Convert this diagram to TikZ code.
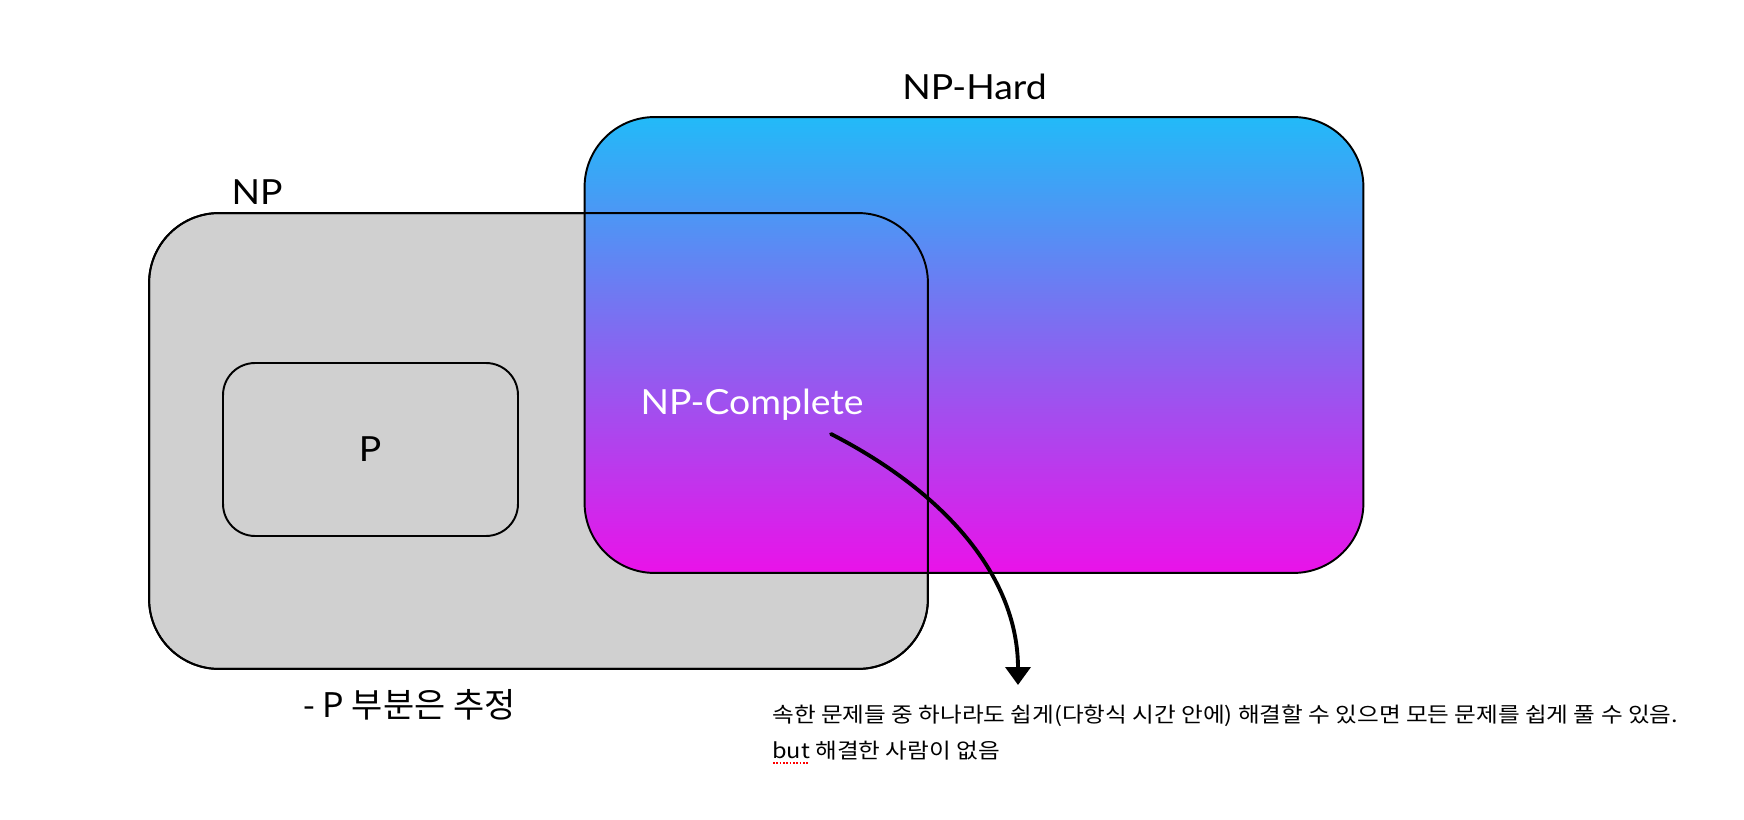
\documentclass[tikz,border=0pt]{standalone}
\usepackage{fontspec}
\setmainfont{Lato}[FakeStretch=1.08]
\newfontfamily\kofont{Noto Sans CJK KR}
\newfontfamily\notefont[FakeStretch=1.12]{Noto Sans CJK KR}
\usetikzlibrary{arrows.meta}
\definecolor{npgray}{HTML}{D0D0D0}
\definecolor{hardtop}{HTML}{22BAF8}
\definecolor{hardbot}{HTML}{EA12E9}
\tikzset{
  setbox/.style={draw=black, line width=1.1pt, rounded corners=1.4cm, minimum width=15.58cm, minimum height=9.12cm, inner sep=0pt, outer sep=0pt},
  lbl/.style={font=\fontsize{19.7}{24}\selectfont, anchor=base, inner sep=0pt},
}
\begin{document}
\begin{tikzpicture}[x=0.02cm, y=-0.02cm]
  \useasboundingbox (0,0) rectangle (1744,820);
  % sets
  \node[setbox, fill=npgray] (np) at (538.5,441) {};
  \node[setbox, top color=hardtop, bottom color=hardbot] (nphard) at (974,345) {};
  \draw[line width=1.1pt, rounded corners=1.4cm] (np.north west) rectangle (np.south east);
  \node[draw, line width=1.1pt, rounded corners=0.64cm, minimum width=5.9cm, minimum height=3.46cm, inner sep=0pt] (pbox) at (370.5,449.5) {};
  % labels
  \node[lbl] (hardlbl) at (974.5,100) {NP-Hard};
  \node[lbl] (nplbl) at (257,205) {NP};
  \node[lbl] (plbl) at (370,462) {P};
  \node[lbl, text=white] (cplbl) at (752,415) {NP-Complete};
  \node[anchor=base, inner sep=0pt, font=\kofont\fontsize{19.3}{24}\selectfont] (guess) at (409.5,717) {- P 부분은 추정};
  % note
  \node[anchor=base west, inner sep=0pt, font=\notefont\fontsize{12}{14}\selectfont] (note1) at (772,722) {속한 문제들 중 하나라도 쉽게(다항식 시간 안에) 해결할 수 있으면 모든 문제를 쉽게 풀 수 있음.};
  \node[anchor=base west, inner sep=0pt, font=\notefont\fontsize{12}{14}\selectfont] (note2) at (772,758) {but 해결한 사람이 없음};
  \draw[red, densely dotted, line width=0.9pt] (773,763) -- (809,763);
  % arrow
  \coordinate (from) at (831,434);
  \coordinate (to) at (1018,685);
  \draw[line width=2.2pt, line cap=round, -{Triangle[width=0.5cm,length=0.36cm]}] (from) .. controls (950,495) and (1018,580) .. (to);
\end{tikzpicture}
\end{document}
